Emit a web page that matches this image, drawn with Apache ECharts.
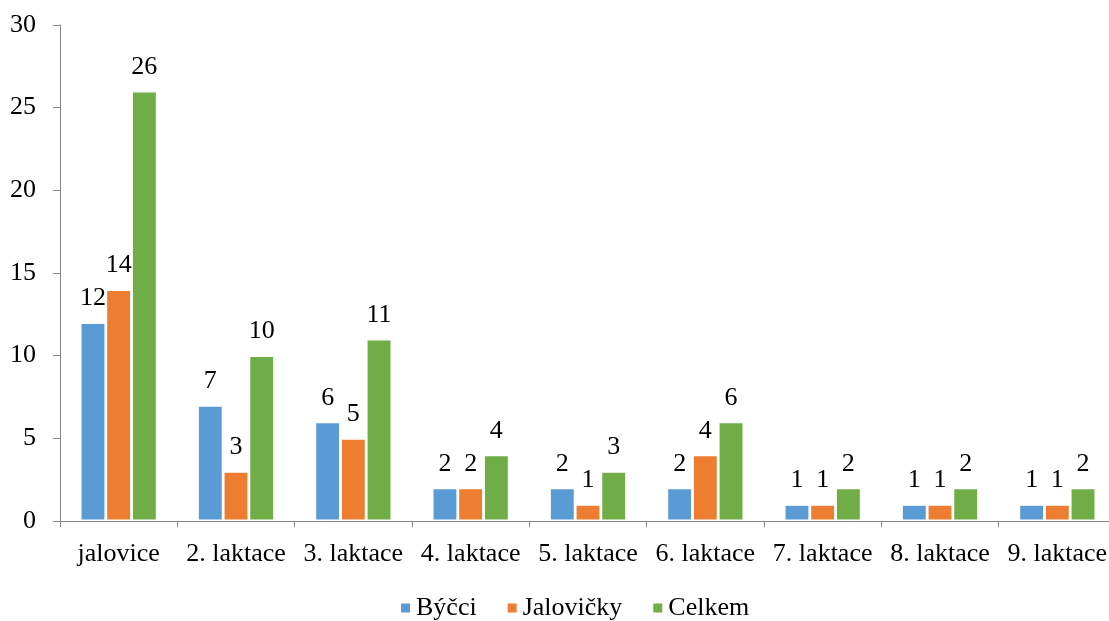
<!DOCTYPE html>
<html>
<head>
<meta charset="utf-8">
<script src="https://cdn.jsdelivr.net/npm/echarts@6/dist/echarts.min.js"></script>
<style>
  html, body { margin: 0; padding: 0; background: #fff; overflow: hidden; }
  /* canvas slightly wider than the window so the last category is cut at the edge */
  #chart { width: 1120px; height: 621px; }
</style>
</head>
<body>
<div id="chart"></div>
<script>
// Počty telat podle laktace matky
const categories = ['jalovice', '2. laktace', '3. laktace', '4. laktace', '5. laktace', '6. laktace', '7. laktace', '8. laktace', '9. laktace'];
const byccci = [12, 7, 6, 2, 2, 2, 1, 1, 1];
const jalovicky = [14, 3, 5, 2, 1, 4, 1, 1, 1];
const celkem = [26, 10, 11, 4, 3, 6, 2, 2, 2];
const seriesNames = ['Býčci', 'Jalovičky', 'Celkem'];
const colors = ['#5B9BD5', '#ED7D31', '#70AD47'];

const FONT = '"Liberation Serif", "Times New Roman", serif';
const FONT_SIZE = 26;
const axisGray = '#868686';

const chart = echarts.init(document.getElementById('chart'), null, { renderer: 'canvas' });

function barSeries(name, data, color) {
  return {
    name: name,
    type: 'bar',
    data: data,
    barWidth: 25.7,
    barGap: '0%',
    itemStyle: { color: color, borderColor: '#fff', borderWidth: 1.4 },
    label: {
      show: true,
      position: 'top',
      distance: 11,
      color: '#000',
      fontFamily: FONT,
      fontSize: FONT_SIZE
    }
  };
}

chart.setOption({
  animation: false,
  backgroundColor: '#fff',
  color: colors,
  grid: { left: 60, top: 25, width: 1056, height: 496, containLabel: false },
  legend: {
    data: seriesNames,
    left: 394,
    top: 590,
    icon: 'rect',
    itemWidth: 11,
    itemHeight: 11,
    itemGap: 29,
    textStyle: { fontFamily: FONT, fontSize: FONT_SIZE, color: '#000' }
  },
  xAxis: {
    type: 'category',
    data: categories,
    axisLine: { lineStyle: { color: axisGray, width: 1 } },
    axisTick: { show: true, length: 6, lineStyle: { color: axisGray } },
    axisLabel: { fontFamily: FONT, fontSize: FONT_SIZE, color: '#000', margin: 20, interval: 0 }
  },
  yAxis: {
    type: 'value',
    min: 0,
    max: 30,
    interval: 5,
    splitLine: { show: false },
    axisLine: { show: true, lineStyle: { color: axisGray, width: 1 } },
    axisTick: { show: true, length: 7, lineStyle: { color: axisGray } },
    axisLabel: { fontFamily: FONT, fontSize: FONT_SIZE, color: '#000', margin: 24 }
  },
  series: [
    barSeries(seriesNames[0], byccci, colors[0]),
    barSeries(seriesNames[1], jalovicky, colors[1]),
    barSeries(seriesNames[2], celkem, colors[2])
  ]
});
</script>
</body>
</html>
